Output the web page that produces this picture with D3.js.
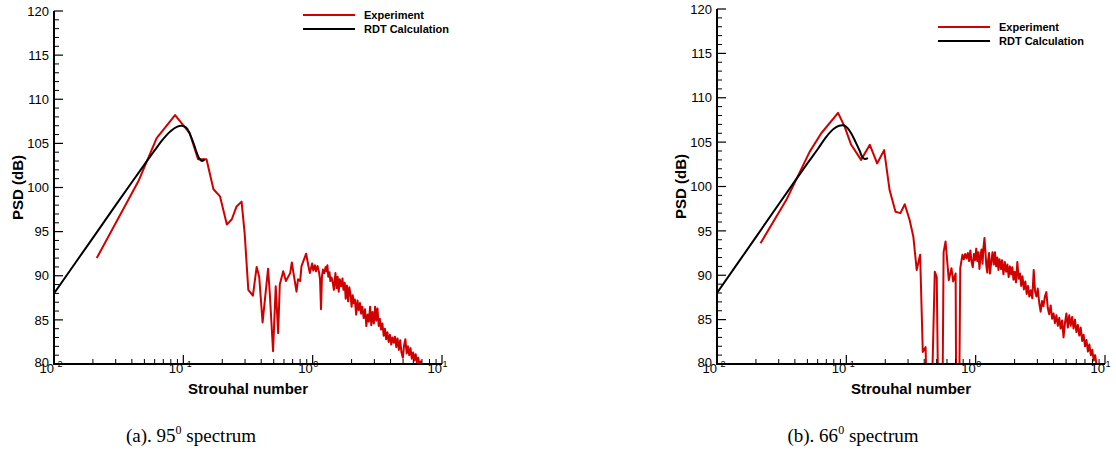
<!DOCTYPE html>
<html>
<head>
<meta charset="utf-8">
<script src="https://cdn.jsdelivr.net/npm/d3@7"></script>
<style>
  body { margin: 0; background: #fff; }
  svg { display: block; }
  text { font-family: "Liberation Sans", Arial, Helvetica, sans-serif; fill: #000; }
</style>
</head>
<body>
<div id="chart"></div>
<script>
// axis ticks
const psdTicks = [80, 85, 90, 95, 100, 105, 110, 115, 120];
const decadeTicks = [-2, -1, 0, 1];
const legendNames = ["Experiment", "RDT Calculation"];

// (a) 95 deg spectrum: [Strouhal, PSD dB]
const exp95 = [
  [0.0214, 92.0], [0.0449, 100.7], [0.0622, 105.6], [0.0863, 108.2], [0.112, 106.15],
  [0.130, 103.2], [0.151, 103.2], [0.171, 99.8], [0.192, 99.0], [0.217, 95.8],
  [0.237, 96.4], [0.258, 97.85], [0.282, 98.4], [0.298, 94.8], [0.318, 88.4],
  [0.345, 87.75], [0.369, 91.0], [0.386, 89.9], [0.41, 84.7], [0.452, 90.8],
  [0.466, 88.05], [0.494, 81.45], [0.518, 88.8], [0.541, 83.5], [0.557, 89.0],
  [0.592, 90.5], [0.621, 89.4], [0.67, 90.3], [0.69, 91.5], [0.718, 89.9],
  [0.75, 88.2], [0.77, 89.6], [0.80, 89.4], [0.82, 91.1], [0.89, 92.5],
  [0.927, 91.1], [0.951, 90.3], [0.99, 91.4], [1.01, 90.6], [1.04, 91.2],
  [1.06, 90.5], [1.09, 91.1], [1.12, 90.4], [1.14, 89.6], [1.16, 86.2],
  [1.18, 89.9], [1.20, 90.7], [1.23, 90.3], [1.26, 91.0], [1.28, 90.5],
  [1.30, 91.2], [1.32, 89.9], [1.35, 90.4], [1.37, 89.4], [1.40, 89.8],
  [1.43, 89.2], [1.46, 88.4], [1.48, 89.5], [1.50, 90.3], [1.53, 88.6],
  [1.56, 89.9], [1.59, 88.2], [1.62, 89.6], [1.66, 88.8], [1.70, 89.7],
  [1.73, 88.4], [1.77, 89.2], [1.80, 87.4], [1.84, 88.9], [1.88, 87.1],
  [1.92, 88.7], [1.96, 87.9], [2.00, 86.5], [2.04, 87.8], [2.08, 86.9],
  [2.12, 87.3], [2.17, 85.6], [2.22, 87.2], [2.27, 86.1], [2.32, 86.9],
  [2.37, 85.7], [2.42, 86.5], [2.48, 85.2], [2.54, 86.2], [2.60, 84.3],
  [2.66, 85.6], [2.72, 84.8], [2.78, 86.5], [2.84, 84.4], [2.90, 85.9],
  [2.97, 84.6], [3.04, 86.5], [3.10, 84.9], [3.17, 86.3], [3.24, 84.3],
  [3.31, 85.1], [3.38, 83.9], [3.46, 84.6], [3.54, 83.2], [3.62, 84.0],
  [3.70, 82.8], [3.78, 83.6], [3.87, 82.5], [3.96, 83.3], [4.05, 82.2],
  [4.14, 83.0], [4.24, 82.4], [4.33, 83.1], [4.43, 81.9], [4.53, 82.9],
  [4.64, 81.6], [4.75, 82.7], [4.86, 81.3], [4.98, 80.7], [5.09, 82.1],
  [5.21, 82.8], [5.33, 81.2], [5.45, 82.0], [5.58, 81.0], [5.71, 81.8],
  [5.84, 80.6], [5.98, 81.3], [6.12, 80.4], [6.26, 81.1], [6.40, 80.2],
  [6.55, 80.7], [6.70, 79.8], [6.85, 80.3], [7.00, 79.5]
];
const rdt95 = [
  [0.01, 88.0], [0.02, 94.3], [0.03, 98.0], [0.04, 100.6], [0.05, 102.6],
  [0.06, 104.2], [0.07, 105.5], [0.08, 106.4], [0.09, 106.9], [0.097, 107.0],
  [0.105, 106.8], [0.112, 106.1], [0.12, 105.0], [0.128, 103.8], [0.134, 103.2],
  [0.14, 103.0], [0.146, 103.2]
];

// (b) 66 deg spectrum
const exp66 = [
  [0.0217, 93.6], [0.0344, 98.5], [0.052, 103.9], [0.064, 106.0], [0.0863, 108.3],
  [0.097, 106.75], [0.109, 104.7], [0.130, 103.0], [0.152, 104.7], [0.173, 102.6],
  [0.196, 104.1], [0.216, 99.6], [0.24, 97.15], [0.262, 97.0], [0.283, 98.0],
  [0.309, 96.2], [0.33, 94.3], [0.35, 90.6], [0.372, 92.3], [0.39, 81.35],
  [0.41, 81.9], [0.428, 70], [0.447, 70], [0.483, 90.4], [0.50, 89.8],
  [0.519, 70], [0.55, 70], [0.565, 92.6], [0.585, 93.8], [0.62, 89.45],
  [0.65, 90.8], [0.67, 89.3], [0.70, 90.2], [0.71, 70], [0.74, 70],
  [0.76, 90.8], [0.79, 92.3], [0.81, 91.8], [0.83, 92.4], [0.85, 91.9],
  [0.87, 92.5], [0.89, 91.6], [0.91, 92.8], [0.93, 91.5], [0.95, 90.9],
  [0.97, 92.4], [0.99, 91.7], [1.01, 93.0], [1.03, 91.6], [1.05, 92.6],
  [1.07, 90.7], [1.09, 92.2], [1.11, 92.9], [1.13, 91.3], [1.15, 93.2],
  [1.17, 94.2], [1.19, 92.6], [1.21, 91.0], [1.23, 90.3], [1.25, 91.8],
  [1.27, 92.5], [1.29, 90.2], [1.32, 91.5], [1.35, 92.6], [1.38, 91.2],
  [1.41, 92.6], [1.44, 91.0], [1.47, 92.0], [1.50, 90.6], [1.53, 91.8],
  [1.57, 90.7], [1.60, 91.7], [1.64, 90.1], [1.68, 91.5], [1.72, 90.4],
  [1.76, 91.2], [1.80, 89.8], [1.84, 91.0], [1.88, 90.1], [1.92, 90.9],
  [1.96, 89.5], [2.00, 90.4], [2.05, 89.2], [2.10, 91.5], [2.15, 89.6],
  [2.20, 90.2], [2.25, 88.8], [2.30, 89.9], [2.36, 88.4], [2.42, 89.3],
  [2.48, 87.9], [2.54, 88.8], [2.60, 87.6], [2.67, 88.3], [2.74, 87.4],
  [2.81, 90.6], [2.88, 88.2], [2.95, 87.6], [3.02, 88.5], [3.10, 86.9],
  [3.18, 85.9], [3.26, 87.1], [3.34, 86.5], [3.43, 87.6], [3.52, 88.1],
  [3.61, 86.3], [3.70, 85.6], [3.80, 86.6], [3.90, 85.1], [4.00, 85.7],
  [4.10, 84.6], [4.21, 85.5], [4.32, 84.3], [4.43, 85.2], [4.54, 84.0],
  [4.66, 84.9], [4.78, 83.0], [4.90, 84.6], [5.03, 85.7], [5.16, 84.1],
  [5.29, 85.5], [5.43, 84.3], [5.57, 85.3], [5.71, 84.0], [5.86, 85.0],
  [6.01, 83.6], [6.17, 84.4], [6.33, 83.2], [6.49, 84.1], [6.66, 82.6],
  [6.83, 83.3], [7.01, 82.0], [7.19, 82.7], [7.38, 81.4], [7.57, 82.2],
  [7.77, 81.0], [7.97, 81.6], [8.18, 80.4], [8.39, 81.0], [8.60, 79.9],
  [8.82, 79.5]
];
const rdt66 = [
  [0.01, 88.0], [0.02, 94.3], [0.03, 98.0], [0.04, 100.6], [0.05, 102.6],
  [0.06, 104.2], [0.07, 105.6], [0.08, 106.5], [0.088, 106.85], [0.095, 106.9],
  [0.102, 106.6], [0.109, 106.0], [0.118, 105.0], [0.127, 104.0], [0.133, 103.3],
  [0.139, 103.1], [0.147, 103.2]
];

const W = 1116, H = 460;
const svg = d3.select("#chart").append("svg").attr("width", W).attr("height", H);

const panels = [
  { id: "a", exp: exp95, rdt: rdt95, left: 54, right: 442, top: 11, bottom: 364,
    legendX: 303, legendY: 15, caption: ["(a). 95", "0", " spectrum"], captionX: 191 },
  { id: "b", exp: exp66, rdt: rdt66, left: 717, right: 1105, top: 9, bottom: 364,
    legendX: 938, legendY: 27, caption: ["(b). 66", "0", " spectrum"], captionX: 853 }
];

panels.forEach(drawPanel);

function drawPanel(p) {
  const x = d3.scaleLog().domain([0.01, 10]).range([p.left, p.right]);
  const y = d3.scaleLinear().domain([80, 120]).range([p.bottom, p.top]);
  const g = svg.append("g");

  g.append("clipPath").attr("id", "clip-" + p.id)
    .append("rect")
    .attr("x", p.left).attr("y", p.top)
    .attr("width", p.right - p.left).attr("height", p.bottom - p.top);

  const line = d3.line().x(d => x(d[0])).y(d => y(d[1]));
  const smooth = d3.line().x(d => x(d[0])).y(d => y(d[1])).curve(d3.curveCatmullRom);

  g.append("path")
    .attr("clip-path", `url(#clip-${p.id})`)
    .attr("d", line(p.exp))
    .attr("fill", "none")
    .attr("stroke", "#d10000")
    .attr("stroke-width", 2)
    .attr("stroke-linejoin", "round");

  g.append("path")
    .attr("clip-path", `url(#clip-${p.id})`)
    .attr("d", smooth(p.rdt))
    .attr("fill", "none")
    .attr("stroke", "#000")
    .attr("stroke-width", 2);

  // y axis: minor ticks every 1 dB, major every 5
  const yMinor = d3.range(80, 121, 1).filter(v => !psdTicks.includes(v));
  g.selectAll(".yminor").data(yMinor).enter().append("line")
    .attr("x1", p.left).attr("x2", p.left + 5)
    .attr("y1", d => y(d)).attr("y2", d => y(d))
    .attr("stroke", "#000").attr("stroke-width", 1);
  g.selectAll(".ymajor").data(psdTicks).enter().append("line")
    .attr("x1", p.left).attr("x2", p.left + 9)
    .attr("y1", d => y(d)).attr("y2", d => y(d))
    .attr("stroke", "#000").attr("stroke-width", 1.2);
  g.selectAll(".ylab").data(psdTicks).enter().append("text")
    .attr("x", p.left - 5).attr("y", d => y(d)).attr("dy", d => d === 80 ? "0.2em" : "0.36em")
    .attr("text-anchor", "end")
    .style("font-size", "13px")
    .text(d => d);

  // x axis: decades and 2..9 minor ticks
  const xMinor = x.ticks().filter(v => !decadeTicks.includes(Math.round(Math.log10(v) * 1000) / 1000));
  g.selectAll(".xminor").data(xMinor).enter().append("line")
    .attr("x1", d => x(d)).attr("x2", d => x(d))
    .attr("y1", p.bottom).attr("y2", p.bottom - 5)
    .attr("stroke", "#000").attr("stroke-width", 1);
  g.selectAll(".xmajor").data(decadeTicks).enter().append("line")
    .attr("x1", d => x(Math.pow(10, d))).attr("x2", d => x(Math.pow(10, d)))
    .attr("y1", p.bottom).attr("y2", p.bottom - 9)
    .attr("stroke", "#000").attr("stroke-width", 1.2);

  const xl = g.selectAll(".xlab").data(decadeTicks).enter().append("g");
  xl.append("text")
    .attr("x", d => x(Math.pow(10, d))).attr("y", p.bottom + 9)
    .attr("text-anchor", "end")
    .style("font-size", "13px")
    .text("10");
  xl.append("text")
    .attr("x", d => x(Math.pow(10, d)) + 0.5).attr("y", p.bottom + 3)
    .style("font-size", "9px")
    .text(d => d);

  // axis lines
  g.append("line")
    .attr("x1", p.left).attr("x2", p.left)
    .attr("y1", p.top).attr("y2", p.bottom + 1)
    .attr("stroke", "#000").attr("stroke-width", 2);
  g.append("line")
    .attr("x1", p.left - 1).attr("x2", p.right)
    .attr("y1", p.bottom).attr("y2", p.bottom)
    .attr("stroke", "#000").attr("stroke-width", 2);

  // axis titles
  g.append("text")
    .attr("x", (p.left + p.right) / 2).attr("y", 394)
    .attr("text-anchor", "middle")
    .style("font-size", "15px").style("font-weight", "bold")
    .text("Strouhal number");
  g.append("text")
    .attr("transform", `translate(${p.left - 31},${(p.top + p.bottom) / 2}) rotate(-90)`)
    .attr("text-anchor", "middle")
    .style("font-size", "15px").style("font-weight", "bold")
    .text("PSD (dB)");

  // legend
  const lg = g.append("g").attr("transform", `translate(${p.legendX},${p.legendY})`);
  const colors = ["#d10000", "#000"];
  legendNames.forEach((name, i) => {
    lg.append("line")
      .attr("x1", 0).attr("x2", 52)
      .attr("y1", i * 14).attr("y2", i * 14)
      .attr("stroke", colors[i]).attr("stroke-width", 2);
    lg.append("text")
      .attr("x", 61).attr("y", i * 14).attr("dy", "0.35em")
      .style("font-size", "11px").style("font-weight", "bold")
      .text(name);
  });

  // caption
  const cap = g.append("text")
    .attr("x", p.captionX).attr("y", 442)
    .attr("text-anchor", "middle")
    .style("font-family", "'Liberation Serif', 'Times New Roman', serif")
    .style("font-size", "19px");
  cap.append("tspan").text(p.caption[0]);
  cap.append("tspan").attr("dy", -8).style("font-size", "12px").text(p.caption[1]);
  cap.append("tspan").attr("dy", 8).text(p.caption[2]);
}
</script>
</body>
</html>
